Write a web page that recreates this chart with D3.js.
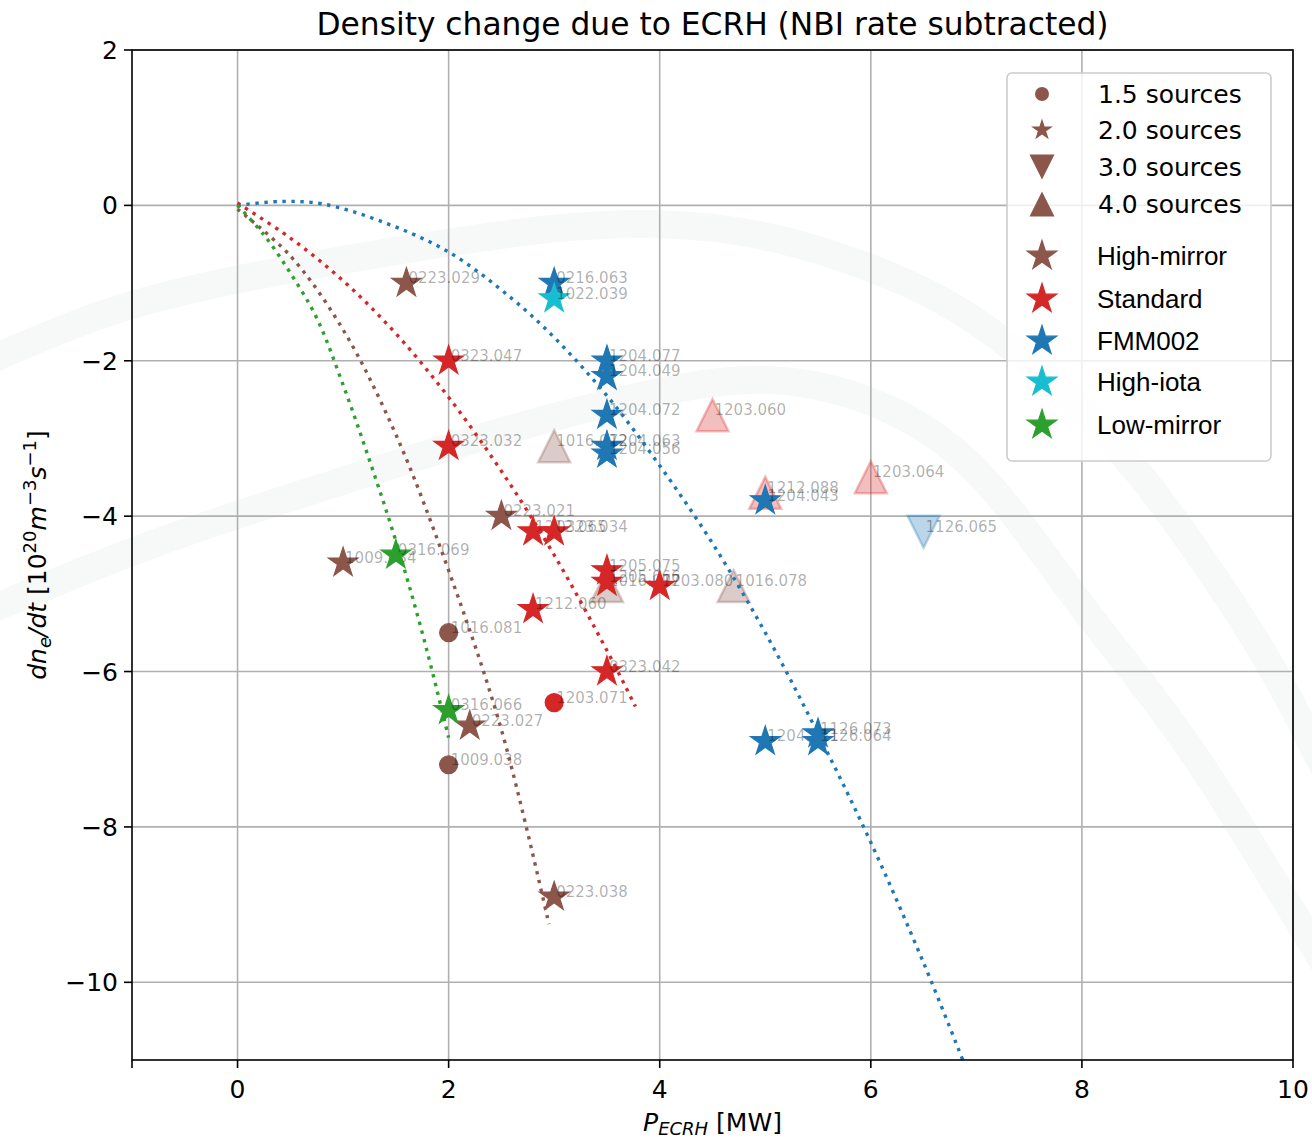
<!DOCTYPE html>
<html><head><meta charset="utf-8">
<script src="https://cdn.jsdelivr.net/npm/d3@7"></script>
<style>body{margin:0;background:#fff}</style>
</head><body>
<svg id="chart" width="1312" height="1140"></svg>
<script>
// Magnetic configurations and their colours
const configNames  = ["High-mirror", "Standard", "FMM002", "High-iota", "Low-mirror"];
const configColors = ["#8c564b", "#d62728", "#1f77b4", "#17becf", "#2ca02c"];

// NBI source levels and the marker used for each
const sourceLevels = [1.5, 2.0, 3.0, 4.0];
const sourceShapes = ["circle", "star", "triDown", "triUp"];

// Shots: id, ECRH power [MW], density change rate [1e20 m^-3 s^-1], config index, NBI sources
const shotIds = [
  "0223.029","0223.021","1009.034","0223.027","0223.038","1016.081","1009.038","1016.072","1016.077","1016.078",
  "0323.047","0323.032","1212.065","0323.034","1205.075","1205.066","1203.080","1212.060","0323.042","1203.071",
  "1203.060","1212.088","1203.064",
  "0216.063","1204.077","1204.049","1204.072","1204.063","1204.056","1204.043","1204.051","1126.073","1126.064","1126.065",
  "1022.039",
  "0316.069","0316.066"
];
const pEcrh = [
  1.6, 2.5, 1.0, 2.2, 3.0, 2.0, 2.0, 3.0, 3.5, 4.7,
  2.0, 2.0, 2.8, 3.0, 3.5, 3.5, 4.0, 2.8, 3.5, 3.0,
  4.5, 5.0, 6.0,
  3.0, 3.5, 3.5, 3.5, 3.5, 3.5, 5.0, 5.0, 5.5, 5.5, 6.5,
  3.0,
  1.5, 2.0
];
const dneDt = [
  -1.0, -4.0, -4.6, -6.7, -8.9, -5.5, -7.2, -3.1, -4.9, -4.9,
  -2.0, -3.1, -4.2, -4.2, -4.7, -4.85, -4.9, -5.2, -6.0, -6.4,
  -2.7, -3.7, -3.5,
  -1.0, -2.0, -2.2, -2.7, -3.1, -3.2, -3.8, -6.9, -6.8, -6.9, -4.2,
  -1.2,
  -4.5, -6.5
];
const shotConfig = [
  0,0,0,0,0,0,0,0,0,0,
  1,1,1,1,1,1,1,1,1,1,
  1,1,1,
  2,2,2,2,2,2,2,2,2,2,2,
  3,
  4,4
];
const shotSources = [
  2.0,2.0,2.0,2.0,2.0,1.5,1.5,4.0,4.0,4.0,
  2.0,2.0,2.0,2.0,2.0,2.0,2.0,2.0,2.0,1.5,
  4.0,4.0,4.0,
  2.0,2.0,2.0,2.0,2.0,2.0,2.0,2.0,2.0,2.0,3.0,
  2.0,
  2.0,2.0
];

// Fitted trends per configuration: [P_ECRH, dn/dt]
const fitFMM002 = [[0,0],[0.4,0.05],[0.8,0.02],[1.35,-0.2],[2,-0.6],[2.6,-1.2],[3,-1.7],[3.5,-2.45],[4,-3.35],[4.5,-4.35],[5,-5.5],[5.5,-6.8],[6,-8.2],[6.5,-9.75],[6.9,-11.1]];
const fitStandard = [[0,0.03],[0.5,-0.42],[1,-0.97],[1.5,-1.65],[2,-2.47],[2.5,-3.42],[3,-4.5],[3.5,-5.73],[3.77,-6.45]];
const fitHighMirror = [[0,-0.05],[0.5,-0.65],[1,-1.6],[1.5,-2.95],[2,-4.7],[2.5,-6.75],[2.95,-9.25]];
const fitLowMirror = [[0,0],[0.25,-0.38],[0.5,-0.87],[0.75,-1.45],[1,-2.31],[1.25,-3.28],[1.5,-4.32],[1.75,-5.5],[2,-6.85]];
const fitCurves = [
  {pts: fitFMM002, cfg: 2},
  {pts: fitStandard, cfg: 1},
  {pts: fitHighMirror, cfg: 0},
  {pts: fitLowMirror, cfg: 4}
];

const xTicks = [0, 2, 4, 6, 8, 10];
const yTicks = [2, 0, -2, -4, -6, -8, -10];

const W = 1312, H = 1140;
const margin = {left: 132, right: 19, top: 50, bottom: 80};
const svg = d3.select("#chart");
const x = d3.scaleLinear([-1, 10], [margin.left, W - margin.right]);
const y = d3.scaleLinear([-11, 2], [H - margin.bottom, margin.top]);
const FONT = "'DejaVu Sans', sans-serif";

svg.append("rect").attr("width", W).attr("height", H).attr("fill", "#fff");

// faint ring watermark in the background
const ringOuter = [[-10,360],[100,312],[210,283],[421,246],[560,226],[660,222],[760,232],[860,262],[960,305],[1060,385],[1140,470],[1210,570],[1270,660],[1325,770]];
const ringInner = [[-10,610],[150,542],[337,483],[500,430],[660,390],[760,374],[860,392],[950,440],[1009,505],[1072,595],[1140,680],[1199,758],[1283,896],[1325,965]];
const wm = d3.line().curve(d3.curveBasis);
[ringOuter, ringInner].forEach(r => {
  svg.append("path").attr("d", wm(r)).attr("fill", "none")
    .attr("stroke", "#f7f9f9")
    .attr("stroke-width", 28).attr("stroke-linecap", "round");
});

// clip region for the plotting area
svg.append("clipPath").attr("id", "plotclip").append("rect")
  .attr("x", x(-1)).attr("y", y(2)).attr("width", x(10) - x(-1)).attr("height", y(-11) - y(2));

// grid
const grid = svg.append("g").attr("stroke", "#b0b0b0").attr("stroke-width", 1.6);
xTicks.forEach(t => grid.append("line").attr("x1", x(t)).attr("x2", x(t)).attr("y1", y(2)).attr("y2", y(-11)));
yTicks.forEach(t => grid.append("line").attr("x1", x(-1)).attr("x2", x(10)).attr("y1", y(t)).attr("y2", y(t)));

// marker geometry
function starPath(R) {
  const r = R * 0.381966;
  let d = "";
  for (let i = 0; i < 10; i++) {
    const rad = i % 2 === 0 ? R : r;
    const a = -Math.PI / 2 + i * Math.PI / 5;
    d += (i === 0 ? "M" : "L") + (rad * Math.cos(a)).toFixed(2) + "," + (rad * Math.sin(a)).toFixed(2);
  }
  return d + "Z";
}
function markerPath(shape, s) {
  if (shape === "star") return starPath(s);
  if (shape === "circle") return `M${s},0A${s},${s} 0 1,1 ${-s},0A${s},${s} 0 1,1 ${s},0Z`;
  if (shape === "triUp") return `M0,${-s}L${s},${s}L${-s},${s}Z`;
  return `M0,${s}L${s},${-s}L${-s},${-s}Z`;
}
const plotSize = {star: 15.5, circle: 9, triUp: 16, triDown: 16};

// data points with their shot labels
const pts = svg.append("g").attr("clip-path", "url(#plotclip)");
shotIds.forEach((id, i) => {
  const shape = sourceShapes[sourceLevels.indexOf(shotSources[i])];
  const col = configColors[shotConfig[i]];
  const faint = shotSources[i] >= 3;
  const px = x(pEcrh[i]), py = y(dneDt[i]);
  pts.append("path")
    .attr("d", markerPath(shape, plotSize[shape]))
    .attr("transform", `translate(${px},${py})`)
    .attr("fill", col).attr("fill-opacity", faint ? 0.3 : 1)
    .attr("stroke", col).attr("stroke-opacity", faint ? 0.3 : 1)
    .attr("stroke-width", faint ? 2.5 : 1.2).attr("stroke-linejoin", "miter");
  pts.append("text")
    .attr("x", px + 2).attr("y", py)
    .attr("font-family", FONT).attr("font-size", 15)
    .attr("fill", "#000").attr("fill-opacity", 0.33)
    .text(id);
});

// fitted trends, dotted
const line = d3.line().x(d => x(d[0])).y(d => y(d[1])).curve(d3.curveCatmullRom);
const fits = svg.append("g").attr("clip-path", "url(#plotclip)");
fitCurves.forEach(fc => {
  fits.append("path").attr("d", line(fc.pts))
    .attr("fill", "none").attr("stroke", configColors[fc.cfg])
    .attr("stroke-width", 3.4).attr("stroke-dasharray", "3.4,5.6");
});

// frame
svg.append("rect").attr("x", x(-1)).attr("y", y(2))
  .attr("width", x(10) - x(-1)).attr("height", y(-11) - y(2))
  .attr("fill", "none").attr("stroke", "#000").attr("stroke-width", 1.6);

// ticks and tick labels
const ticks = svg.append("g").attr("font-family", FONT).attr("font-size", 25).attr("fill", "#000");
const fmt = v => (v < 0 ? "\u2212" : "") + Math.abs(v);
xTicks.forEach(t => {
  ticks.append("line").attr("x1", x(t)).attr("x2", x(t)).attr("y1", y(-11)).attr("y2", y(-11) + 8).attr("stroke", "#000").attr("stroke-width", 1.6);
  ticks.append("text").attr("x", x(t)).attr("y", y(-11) + 38).attr("text-anchor", "middle").text(fmt(t));
});
ticks.append("line").attr("x1", x(-1)).attr("x2", x(-1)).attr("y1", y(-11)).attr("y2", y(-11) + 8).attr("stroke", "#000").attr("stroke-width", 1.6);
yTicks.forEach(t => {
  ticks.append("line").attr("x1", x(-1) - 8).attr("x2", x(-1)).attr("y1", y(t)).attr("y2", y(t)).attr("stroke", "#000").attr("stroke-width", 1.6);
  ticks.append("text").attr("x", x(-1) - 14).attr("y", y(t) + 9).attr("text-anchor", "end").text(fmt(t));
});

// title
svg.append("text").attr("x", (x(-1) + x(10)) / 2).attr("y", 35)
  .attr("text-anchor", "middle").attr("font-family", FONT).attr("font-size", 31.3)
  .text("Density change due to ECRH (NBI rate subtracted)");

// x axis label: P_ECRH [MW]
const xl = svg.append("text").attr("x", (x(-1) + x(10)) / 2).attr("y", 1131)
  .attr("text-anchor", "middle").attr("font-family", FONT).attr("font-size", 25);
xl.append("tspan").attr("font-style", "italic").text("P");
xl.append("tspan").attr("font-style", "italic").attr("font-size", 18).attr("dy", 4).text("ECRH");
xl.append("tspan").attr("dy", -4).text(" [MW]");

// y axis label: dn_e/dt [10^20 m^-3 s^-1]
const yl = svg.append("text")
  .attr("transform", `translate(46,${(y(2) + y(-11)) / 2}) rotate(-90)`)
  .attr("text-anchor", "middle").attr("font-family", FONT).attr("font-size", 25);
yl.append("tspan").attr("font-style", "italic").text("dn");
yl.append("tspan").attr("font-style", "italic").attr("font-size", 18).attr("dy", 5).text("e");
yl.append("tspan").attr("font-style", "italic").attr("dy", -5).text("/dt");
yl.append("tspan").text(" [10");
yl.append("tspan").attr("font-size", 18).attr("dy", -10).text("20");
yl.append("tspan").attr("font-style", "italic").attr("dy", 10).text("m");
yl.append("tspan").attr("font-size", 18).attr("dy", -10).text("\u22123");
yl.append("tspan").attr("font-style", "italic").attr("dy", 10).text("s");
yl.append("tspan").attr("font-size", 18).attr("dy", -10).text("\u22121");
yl.append("tspan").attr("dy", 10).text("]");

// legend
const lg = svg.append("g");
lg.append("rect").attr("x", 1007).attr("y", 73).attr("width", 264).attr("height", 388).attr("rx", 5)
  .attr("fill", "#fff").attr("fill-opacity", 0.8).attr("stroke", "#cccccc").attr("stroke-width", 1.6);
const legendSourceY = [94, 130, 167, 204];
const legendSourceSize = {circle: 7, star: 11.5, triDown: 12.5, triUp: 12.5};
sourceLevels.forEach((lv, i) => {
  const shape = sourceShapes[i];
  lg.append("path").attr("d", markerPath(shape, legendSourceSize[shape]))
    .attr("transform", `translate(1042,${legendSourceY[i]})`).attr("fill", configColors[0]);
  lg.append("text").attr("x", 1098).attr("y", legendSourceY[i] + 9)
    .attr("font-family", FONT).attr("font-size", 25).text(lv.toFixed(1) + " sources");
});
const legendConfigY = [256, 299, 341, 382, 425];
configNames.forEach((nm, i) => {
  lg.append("path").attr("d", starPath(15.5))
    .attr("transform", `translate(1042,${legendConfigY[i]})`).attr("fill", configColors[i])
    .attr("stroke", configColors[i]).attr("stroke-width", 1.2);
  lg.append("text").attr("x", 1097).attr("y", legendConfigY[i] + 9)
    .attr("font-family", "'Liberation Sans', Arial, sans-serif").attr("font-size", 26).text(nm);
});
</script>
</body></html>
